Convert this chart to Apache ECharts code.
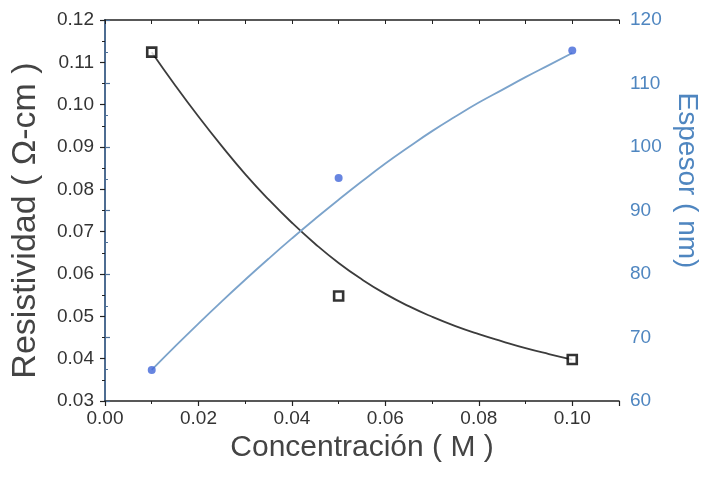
<!DOCTYPE html>
<html>
<head>
<meta charset="utf-8">
<script src="https://cdn.jsdelivr.net/npm/echarts@6/dist/echarts.min.js"></script>
<style>
html,body{margin:0;padding:0;background:#fff;}
#chart{width:702px;height:479px;}
</style>
</head>
<body>
<div id="chart"></div>
<script>
// Measured points
const concentration = [0.01, 0.05, 0.10];
const resistivity = [0.1124, 0.0548, 0.0398];
const thickness = [64.9, 95.1, 115.2];

// Fitted curves
const fitConc = [0.01, 0.015, 0.02, 0.025, 0.03, 0.035, 0.04, 0.045, 0.05, 0.055, 0.06, 0.065, 0.07, 0.075, 0.08, 0.085, 0.09, 0.095, 0.10];
const resistivityFit = [0.1124, 0.1046, 0.0972, 0.0902, 0.0836, 0.0776, 0.0721, 0.0671, 0.0626, 0.0587, 0.0553, 0.0524, 0.0499, 0.0477, 0.0458, 0.0441, 0.0425, 0.0411, 0.0398];
const thicknessFit = [64.9, 68.6, 72.2, 75.7, 79.1, 82.4, 85.6, 88.7, 91.7, 94.6, 97.4, 100.0, 102.5, 104.8, 107.0, 109.0, 111.0, 112.9, 114.8];

// Axis text
const xName = 'Concentración ( M )';
const yLeftName = 'Resistividad ( Ω-cm )';
const yRightName = 'Espesor ( nm)';

const FONT = 'Liberation Sans, Arial, sans-serif';
const BLUE_AXIS = '#4d6f98';
const BLUE_TEXT = '#4f86c0';

const chart = echarts.init(document.getElementById('chart'), null, {renderer: 'canvas'});
chart.setOption({
  animation: false,
  backgroundColor: '#fff',
  grid: {left: 105, right: 83, top: 20, bottom: 78, containLabel: false, outerBoundsMode: 'none'},
  xAxis: [{
    type: 'value', position: 'bottom', min: 0, max: 0.11, interval: 0.02,
    name: xName, nameLocation: 'middle', nameGap: 31,
    nameTextStyle: {fontFamily: FONT, fontSize: 30, color: '#444'},
    axisLine: {show: true, lineStyle: {color: '#222', width: 1.5}},
    axisTick: {show: true, inside: false, length: 5, lineStyle: {color: '#222', width: 1.2}},
    minorTick: {show: true, splitNumber: 2, length: 3, lineStyle: {color: '#222', width: 1}},
    axisLabel: {fontFamily: FONT, fontSize: 19, color: '#333', margin: 8, showMaxLabel: false,
      formatter: v => (Math.abs(v - 0.11) < 1e-9 ? '' : v.toFixed(2))},
    splitLine: {show: false}
  }, {
    type: 'value', position: 'top', min: 0, max: 0.11, interval: 0.01,
    axisLine: {show: true, lineStyle: {color: '#222', width: 1.5}},
    axisTick: {show: true, inside: true, length: 4, lineStyle: {color: '#222', width: 1}},
    axisLabel: {show: false},
    splitLine: {show: false}
  }],
  yAxis: [{
    type: 'value', position: 'left', min: 0.03, max: 0.12, interval: 0.01,
    name: yLeftName, nameLocation: 'middle', nameGap: 62, nameRotate: 90,
    nameTextStyle: {fontFamily: FONT, fontSize: 34, color: '#444', padding: [0, 20, 0, 0]},
    axisLine: {show: true, lineStyle: {color: '#222', width: 1.5}},
    axisTick: {show: true, inside: false, length: 5, lineStyle: {color: '#222', width: 1.2}},
    minorTick: {show: true, splitNumber: 2, length: 3, lineStyle: {color: '#222', width: 1}},
    axisLabel: {fontFamily: FONT, fontSize: 19, color: '#333', margin: 11,
      formatter: v => v.toFixed(2)},
    splitLine: {show: false}
  }, {
    type: 'value', position: 'right', min: 60, max: 120, interval: 10,
    name: yRightName, nameLocation: 'middle', nameGap: 52, nameRotate: -90,
    nameTextStyle: {fontFamily: FONT, fontSize: 28, color: BLUE_TEXT, padding: [0, 60, 0, 0]},
    axisLine: {show: true, lineStyle: {color: BLUE_AXIS, width: 1.8}},
    axisTick: {show: true, inside: false, length: 5, lineStyle: {color: BLUE_AXIS, width: 1.2}},
    minorTick: {show: true, splitNumber: 2, length: 3, lineStyle: {color: BLUE_AXIS, width: 1}},
    axisLabel: {fontFamily: FONT, fontSize: 19, color: BLUE_TEXT, margin: 11},
    splitLine: {show: false}
  }],
  series: [{
    type: 'line', name: 'resFit', xAxisIndex: 0, yAxisIndex: 0,
    data: fitConc.map((x, i) => [x, resistivityFit[i]]),
    smooth: true, showSymbol: false, silent: true,
    lineStyle: {color: '#3c3c3c', width: 1.8}, z: 2
  }, {
    type: 'line', name: 'thickFit', xAxisIndex: 0, yAxisIndex: 1,
    data: fitConc.map((x, i) => [x, thicknessFit[i]]),
    smooth: true, showSymbol: false, silent: true,
    lineStyle: {color: '#7ba3cb', width: 1.8}, z: 2
  }, {
    type: 'scatter', name: 'Resistividad', xAxisIndex: 0, yAxisIndex: 0,
    data: concentration.map((x, i) => [x, resistivity[i]]),
    symbol: 'rect', symbolSize: 9,
    itemStyle: {color: '#fff', borderColor: '#000', borderWidth: 2.6}, z: 5
  }, {
    type: 'scatter', name: 'Espesor', xAxisIndex: 0, yAxisIndex: 1,
    data: concentration.map((x, i) => [x, thickness[i]]),
    symbol: 'circle', symbolSize: 8,
    itemStyle: {color: '#4166d8'}, z: 5
  }]
});
</script>
</body>
</html>
